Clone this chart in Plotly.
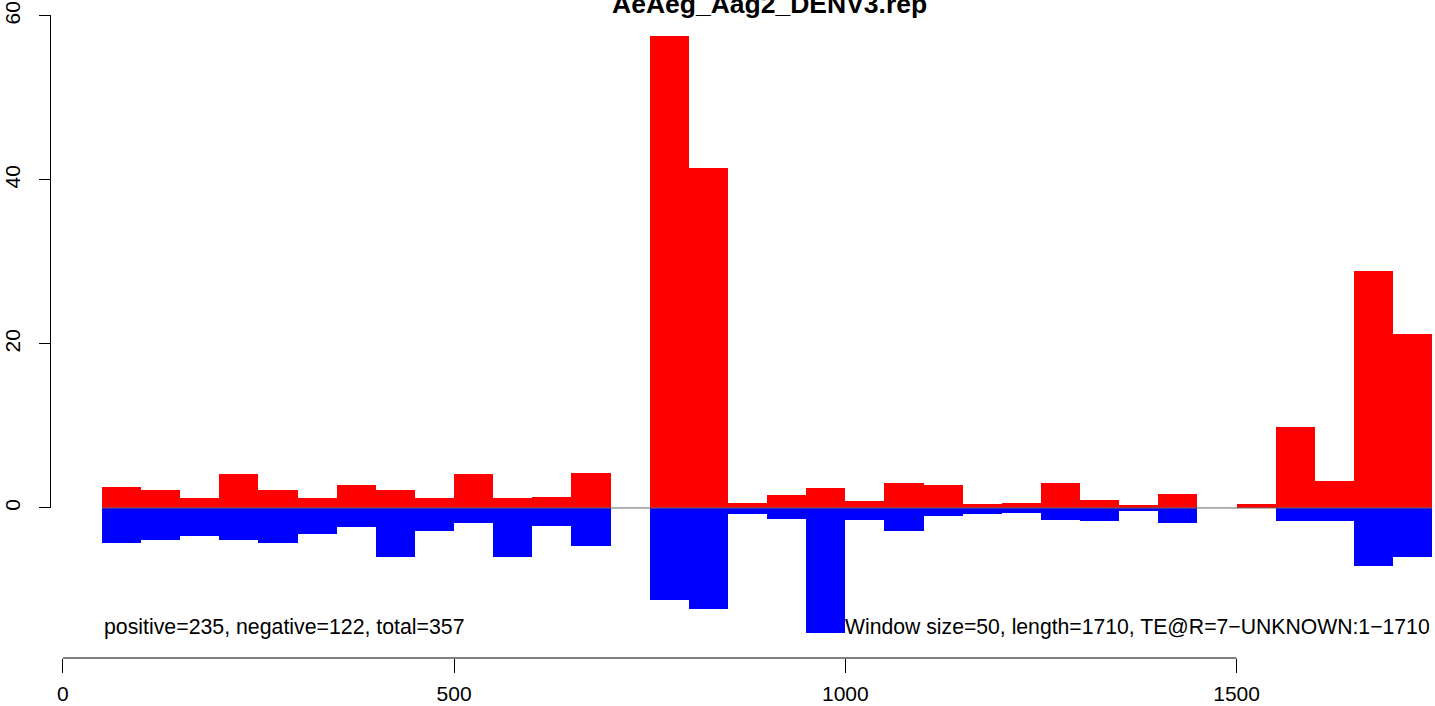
import plotly.graph_objects as go

# ---- data ----
bin_start = [50 * k for k in range(1, 35)]  # windows of size 50
bin_width = 50
positive = [2.56, 2.2, 1.22, 4.15, 2.2, 1.22, 2.8, 2.2, 1.22, 4.15, 1.22, 1.34, 4.27, 0,
            57.5, 41.5, 0.61, 1.59, 2.44, 0.85, 3.05, 2.8, 0.49, 0.61, 3.05, 0.98, 0.37, 1.71,
            0, 0.49, 9.88, 3.29, 28.9, 21.2]
negative = [-4.23, -3.9, -3.41, -3.9, -4.23, -3.13, -2.32, -5.98, -2.76, -1.79, -5.98, -2.2, -4.63, 0,
            -11.2, -12.3, -0.69, -1.34, -15.3, -1.46, -2.8, -0.93, -0.69, -0.57, -1.46, -1.59, -0.33, -1.79,
            0, 0, -1.59, -1.59, -7.03, -5.93]
x_ticks = [0, 500, 1000, 1500]
y_ticks = [0, 20, 40, 60]
title = "AeAeg_Aag2_DENV3.rep"
left_note = "positive=235, negative=122, total=357"
right_note = "Window size=50, length=1710, TE@R=7\u2212UNKNOWN:1\u22121710"

W, H = 1435, 706
FONT = "Liberation Sans, Arial, Helvetica, sans-serif"

centers = [s + bin_width / 2 for s in bin_start]
x_lo, x_hi = bin_start[0], bin_start[-1] + bin_width

fig = go.Figure()
fig.add_trace(go.Scatter(x=[x_lo, x_hi], y=[0, 0], mode="lines",
                         line=dict(color="#666666", width=1), hoverinfo="skip", showlegend=False))
fig.add_trace(go.Bar(x=centers, y=negative, width=bin_width, marker=dict(color="#0000FF", line=dict(width=0)),
                     showlegend=False))
fig.add_trace(go.Bar(x=centers, y=positive, width=bin_width, marker=dict(color="#FF0000", line=dict(width=0)),
                     showlegend=False))

x_axis_pos = 1 - 658 / H
y_axis_pos = 50.5 / W

fig.update_layout(
    width=W, height=H,
    margin=dict(l=0, r=0, t=0, b=0, autoexpand=False),
    paper_bgcolor="white", plot_bgcolor="white",
    barmode="overlay", bargap=0,
    font=dict(family=FONT, size=21, color="black"),
    xaxis=dict(domain=[0, 1], range=[-80.26, 1753.6], anchor="free", position=x_axis_pos,
               tickvals=x_ticks, ticks="outside", ticklen=14, tickwidth=1, tickcolor="black",
               showline=False, showgrid=False, zeroline=False, ticklabelstandoff=3, automargin=False,
               tickfont=dict(size=21, family=FONT)),
    yaxis=dict(domain=[0, 1], range=[-24.15, 61.95], anchor="free", position=y_axis_pos,
               tickvals=y_ticks, ticks="outside", ticklen=12, tickwidth=1, tickcolor="black",
               tickangle=-90, showline=False, showgrid=False, zeroline=False, ticklabelstandoff=10,
               automargin=False, tickfont=dict(size=21, family=FONT)),
    shapes=[
        dict(type="line", xref="x", yref="paper", x0=x_ticks[0], x1=x_ticks[-1],
             y0=x_axis_pos, y1=x_axis_pos, line=dict(color="black", width=1)),
        dict(type="line", xref="paper", yref="y", x0=y_axis_pos, x1=y_axis_pos,
             y0=y_ticks[0], y1=y_ticks[-1], line=dict(color="black", width=1)),
    ],
    annotations=[
        dict(text="<b>" + title + "</b>", xref="paper", yref="paper", x=769 / W, y=1 - 4 / H,
             xanchor="center", yanchor="middle", showarrow=False, font=dict(size=26.5, family=FONT)),
        dict(text=left_note, xref="x", yref="y", x=x_lo, y=-14.5, xanchor="left", yanchor="middle",
             showarrow=False, font=dict(size=21.3, family=FONT)),
        dict(text=right_note, xref="x", yref="y", x=x_hi, y=-14.5, xanchor="right", yanchor="middle",
             showarrow=False, font=dict(size=21.2, family=FONT)),
    ],
)

fig.write_html("out.html", config={"displayModeBar": False},
               post_script="document.body.style.margin='0';document.body.style.overflow='hidden';")
